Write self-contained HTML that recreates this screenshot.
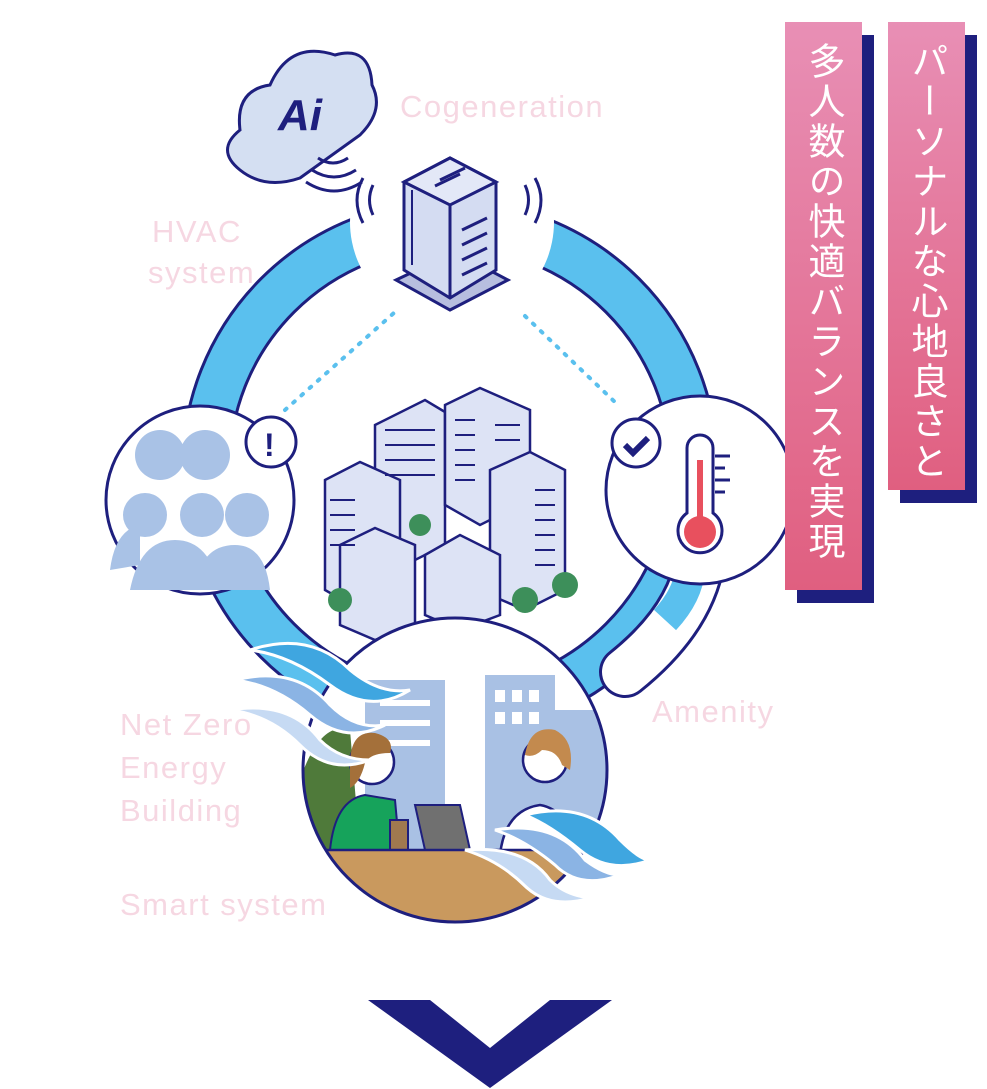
<!DOCTYPE html>
<html><head><meta charset="utf-8"><style>
html,body{margin:0;padding:0;background:#fff;}
.wrap{position:relative;width:987px;height:1089px;overflow:hidden;background:#fff;}
svg{position:absolute;left:0;top:0;}
.lbl{font-family:"Liberation Sans",sans-serif;fill:#f6d7e2;font-size:31px;letter-spacing:1.5px;}
.ban{position:absolute;width:77px;background:linear-gradient(#e88fb5,#e05f80);box-shadow:12px 13px 0 #1e1f7e;color:#fff;font-family:"Liberation Sans","Noto Sans CJK JP",sans-serif;font-size:37px;writing-mode:vertical-rl;line-height:77px;box-sizing:border-box;padding-top:20px;letter-spacing:3px;}
</style></head><body><div class="wrap">
<svg width="987" height="1089" viewBox="0 0 987 1089">
<defs><clipPath id="bc"><circle cx="455" cy="770" r="152"/></clipPath></defs>
<circle cx="450" cy="468" r="244" fill="none" stroke="#1e1f7e" stroke-width="50"/>
<circle cx="450" cy="468" r="244" fill="none" stroke="#5ac0ee" stroke-width="44"/>
<path d="M700 560 Q690 620 625 672" fill="none" stroke="#1e1f7e" stroke-width="52" stroke-linecap="round"/>
<path d="M700 560 Q690 620 625 672" fill="none" stroke="#fff" stroke-width="46" stroke-linecap="round"/>
<path d="M690 570 Q688 595 665 620" fill="none" stroke="#5ac0ee" stroke-width="30"/>
<circle cx="452" cy="222" r="102" fill="#fff"/>
<path d="M285 410 L395 312" stroke="#5ac0ee" stroke-width="4" stroke-dasharray="2 9" stroke-linecap="round"/>
<path d="M525 316 L618 405" stroke="#5ac0ee" stroke-width="4" stroke-dasharray="2 9" stroke-linecap="round"/>
<path d="M240 170 Q215 150 240 130 Q235 90 270 85 Q290 40 335 55 Q370 45 372 85 Q385 110 360 135 L300 178 Q265 190 240 170Z" fill="#d4dff2" stroke="#1e1f7e" stroke-width="3"/>
<text x="278" y="130" font-family="Liberation Sans" font-weight="bold" font-style="italic" font-size="44" fill="#1e1f7e">Ai</text>
<path d="M318 158 q15 10 30 0 M312 170 q22 14 44 0 M306 182 q28 18 56 0" fill="none" stroke="#1e1f7e" stroke-width="3"/>
<path d="M363 178 q-12 22 0 45 M373 185 q-7 15 0 30" fill="none" stroke="#1e1f7e" stroke-width="3"/>
<path d="M535 178 q12 22 0 45 M525 185 q7 15 0 30" fill="none" stroke="#1e1f7e" stroke-width="3"/>
<polygon points="396,280 455,252 508,280 450,310" fill="#b7bedf" stroke="#1e1f7e" stroke-width="3"/>
<polygon points="404,182 450,158 496,182 496,270 450,298 404,270" fill="#d4dcf2" stroke="#1e1f7e" stroke-width="3"/>
<polygon points="404,182 450,205 496,182 450,158" fill="#e3e8f7" stroke="#1e1f7e" stroke-width="3"/>
<path d="M450 205 V298" stroke="#1e1f7e" stroke-width="3"/>
<path d="M412 190 V265" stroke="#1e1f7e" stroke-width="2"/>
<path d="M462 230 l25-12 M462 245 l25-12 M462 260 l25-12 M462 275 l25-12 M440 180 l25-12 M435 186 l25-12" stroke="#1e1f7e" stroke-width="3"/>
<circle cx="200" cy="500" r="94" fill="#fff" stroke="#1e1f7e" stroke-width="3"/>
<g fill="#a9c2e6"><circle cx="160" cy="455" r="25"/><circle cx="205" cy="455" r="25"/><circle cx="145" cy="515" r="22"/><circle cx="202" cy="515" r="22"/><circle cx="247" cy="515" r="22"/><path d="M130 590 q10-50 45-50 q35 0 45 50Z M195 590 q5-45 40-45 q30 0 35 45Z M110 570 q5-40 30-45 v40Z"/></g>
<circle cx="271" cy="442" r="25" fill="#fff" stroke="#1e1f7e" stroke-width="3"/>
<text x="264" y="456" font-family="Liberation Sans" font-weight="bold" font-size="32" fill="#1e1f7e">!</text>
<circle cx="700" cy="490" r="94" fill="#fff" stroke="#1e1f7e" stroke-width="3"/>
<path d="M687 448 a13 13 0 0 1 26 0 v65 a22 22 0 1 1 -26 0Z" fill="#fff" stroke="#1e1f7e" stroke-width="3"/>
<circle cx="700" cy="532" r="16" fill="#e8505e"/><rect x="697" y="460" width="6" height="70" fill="#e8505e"/>
<path d="M715 456h15 M715 468h10 M715 480h15 M715 492h10" stroke="#1e1f7e" stroke-width="3"/>
<circle cx="636" cy="443" r="24" fill="#fff" stroke="#1e1f7e" stroke-width="3"/>
<path d="M625 445 l8 8 l15-15" fill="none" stroke="#1e1f7e" stroke-width="6"/>
<g stroke="#1e1f7e" stroke-width="2.5" fill="#dde3f5">
<polygon points="375,425 425,400 445,412 445,545 395,570 375,558"/>
<polygon points="445,405 480,388 530,410 530,500 480,525 445,505"/>
<polygon points="490,470 530,452 565,470 565,590 525,610 490,595"/>
<polygon points="325,480 360,462 400,480 400,590 360,610 325,590"/>
<polygon points="340,545 375,528 415,545 415,625 375,640 340,625"/>
<polygon points="425,555 460,535 500,555 500,615 460,630 425,615"/>
</g>
<g stroke="#1e1f7e" stroke-width="2" fill="none">
<path d="M455 420h20M455 435h20M455 450h20M455 465h20M455 480h20M495 425h25M495 440h25M535 490h20M535 505h20M535 520h20M535 535h20M535 550h20M535 565h20M330 500h25M330 515h25M330 530h25M330 545h25M385 430h50M385 445h50M385 460h50M385 475h50"/>
</g>
<g fill="#3d8f5a"><circle cx="340" cy="600" r="12"/><circle cx="525" cy="600" r="13"/><circle cx="565" cy="585" r="13"/><circle cx="420" cy="525" r="11"/></g>
<g clip-path="url(#bc)">
<rect x="300" y="615" width="310" height="320" fill="#fff"/>
<rect x="365" y="680" width="80" height="190" fill="#a9c1e4"/>
<rect x="485" y="675" width="70" height="200" fill="#a9c1e4"/>
<rect x="555" y="710" width="60" height="160" fill="#a9c1e4"/>
<g fill="#fff"><rect x="380" y="700" width="50" height="6"/><rect x="380" y="720" width="50" height="6"/><rect x="380" y="740" width="50" height="6"/><rect x="495" y="690" width="10" height="12"/><rect x="512" y="690" width="10" height="12"/><rect x="529" y="690" width="10" height="12"/><rect x="495" y="712" width="10" height="12"/><rect x="512" y="712" width="10" height="12"/><rect x="529" y="712" width="10" height="12"/></g>
<path d="M300 780 q20-60 50-50 l10 120 h-60Z" fill="#4f7a3a"/>
<path d="M330 850 q5-50 35-55 l30 5 l5 55Z" fill="#16a35b" stroke="#1e1f7e" stroke-width="2"/>
<circle cx="372" cy="762" r="22" fill="#fff" stroke="#1e1f7e" stroke-width="2.5"/>
<path d="M350 765 q0-35 25-32 q20 5 15 20 q-20 0 -25 10 q-5 20 -15 25Z" fill="#a4703a"/>
<path d="M500 855 q5-45 40-50 q30 5 35 50Z" fill="#fff" stroke="#1e1f7e" stroke-width="2.5"/>
<circle cx="545" cy="760" r="22" fill="#fff" stroke="#1e1f7e" stroke-width="2.5"/>
<path d="M525 755 q5-30 30-25 q20 10 15 40 l-8 -5 q-5 -15 -20 -15 q-8 8 -17 5Z" fill="#c38a4e"/>
<polygon points="415,805 460,805 470,850 425,850" fill="#707070" stroke="#1e1f7e" stroke-width="2"/>
<rect x="390" y="820" width="18" height="30" fill="#a0794f" stroke="#1e1f7e" stroke-width="2"/>
<rect x="300" y="850" width="320" height="90" fill="#c9995e" stroke="#1e1f7e" stroke-width="2.5"/>
</g>
<circle cx="455" cy="770" r="152" fill="none" stroke="#1e1f7e" stroke-width="3"/>
<g stroke="#fff" stroke-width="3">
<path d="M250 650 q60 -20 100 20 q30 25 60 20 q-40 25 -80 -5 q-40 -30 -80 -35Z" fill="#3fa6e0"/>
<path d="M235 680 q60 -15 95 25 q25 25 55 20 q-40 20 -75 -10 q-35 -30 -75 -35Z" fill="#8bb4e4"/>
<path d="M230 710 q60 -10 90 30 q20 20 50 20 q-40 15 -70 -15 q-30 -30 -70 -35Z" fill="#c6daf3"/>
<path d="M525 815 q60 -15 95 25 q20 20 30 20 q-40 15 -70 -10 q-30 -25 -55 -35Z" fill="#3fa6e0"/>
<path d="M495 830 q60 -10 90 30 q20 15 35 15 q-40 15 -65 -10 q-30 -25 -60 -35Z" fill="#8bb4e4"/>
<path d="M465 850 q60 -5 85 30 q15 15 40 18 q-40 12 -65 -12 q-25 -25 -60 -36Z" fill="#c6daf3"/>
</g>
<text class="lbl" x="400" y="117">Cogeneration</text>
<text class="lbl" x="152" y="242">HVAC</text>
<text class="lbl" x="148" y="283">system</text>
<text class="lbl" x="120" y="735">Net Zero</text>
<text class="lbl" x="120" y="778">Energy</text>
<text class="lbl" x="120" y="821">Building</text>
<text class="lbl" x="120" y="915">Smart system</text>
<text class="lbl" x="652" y="722">Amenity</text>
<polygon points="368,1000 430,1000 490,1048 550,1000 612,1000 490,1088" fill="#1e1f7e"/>
</svg>
<div class="ban" style="left:785px;top:22px;height:568px;">多人数の快適バランスを実現</div>
<div class="ban" style="left:888px;top:22px;height:468px;">パーソナルな心地良さと</div>
</div></body></html>
